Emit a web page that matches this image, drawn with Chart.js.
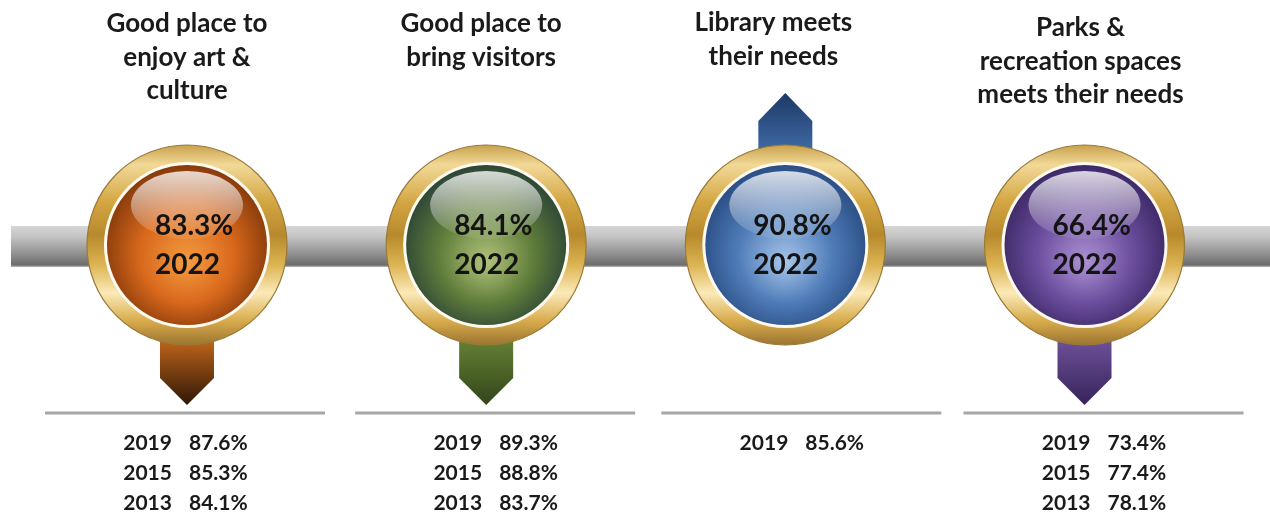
<!DOCTYPE html>
<html>
<head>
<meta charset="utf-8">
<script src="https://cdn.jsdelivr.net/npm/chart.js@4.4.1/dist/chart.umd.min.js"></script>
<style>
  html, body { margin: 0; padding: 0; background: #fff; }
  #wrap { width: 1270px; height: 515px; position: relative; }
</style>
</head>
<body>
<div id="wrap"><canvas id="infographic"></canvas></div>
<script>
// Survey results timeline - 2022 with earlier years below

const categories = [
  ['Good place to', 'enjoy art &', 'culture'],
  ['Good place to', 'bring visitors'],
  ['Library meets', 'their needs'],
  ['Parks &', 'recreation spaces', 'meets their needs']
];
const currentYear = '2022';
const values2022 = [83.3, 84.1, 90.8, 66.4];
const pastYears = ['2019', '2015', '2013'];
const pastValues = [
  [87.6, 85.3, 84.1],
  [89.3, 88.8, 83.7],
  [85.6],
  [73.4, 77.4, 78.1]
];
// arrow direction: change 2022 vs 2019
const arrowUp = values2022.map((v, i) => v > pastValues[i][0]);

const palettes = [
  { ball: ['#f59c40', '#d8681c', '#853a0b'], arrow: ['#e0781f', '#2e1606'] },
  { ball: ['#b2c47c', '#607d3a', '#2c4536'], arrow: ['#6f8f39', '#33441b'] },
  { ball: ['#a8c6ea', '#4f7cb8', '#2a4d84'], arrow: ['#4876b4', '#1c3866'] },
  { ball: ['#ad93d4', '#6c4e9e', '#3c2866'], arrow: ['#7a5aa8', '#36245a'] }
];

// small layout nudges (px) relative to each circle centre
const titleShift = [0, -5, -12, -4];
const titleTop = [24, 24, 23, 28];
const tableShift = [-2, 9, 16, 19];

const FONT = 'Lato, "Open Sans", sans-serif';

const fmt = v => v.toFixed(1) + '%';

const decor = {
  id: 'decor',
  beforeDatasetsDraw(chart) {
    const ctx = chart.ctx;
    const pts = chart.getDatasetMeta(0).data;
    const cy = pts[0].y;

    // grey timeline bar
    const barTop = cy - 19, barBot = cy + 22;
    let g = ctx.createLinearGradient(0, barTop, 0, barBot);
    g.addColorStop(0, '#d6d6d6');
    g.addColorStop(0.25, '#c4c4c4');
    g.addColorStop(0.7, '#8e8e8e');
    g.addColorStop(0.95, '#6c6c6c');
    g.addColorStop(1, '#b8b8b8');
    ctx.fillStyle = g;
    ctx.fillRect(11, barTop, chart.width - 11, barBot - barTop);

    pts.forEach((p, i) => {
      const cx = p.x;
      const pal = palettes[i];
      ctx.save();
      // arrow
      const hw = 27;
      if (arrowUp[i]) {
        const top = 93, shoulder = 121, base = cy - 80;
        g = ctx.createLinearGradient(0, top, 0, base);
        g.addColorStop(0, pal.arrow[1]);
        g.addColorStop(1, pal.arrow[0]);
        ctx.fillStyle = g;
        ctx.beginPath();
        ctx.moveTo(cx - hw, base);
        ctx.lineTo(cx - hw, shoulder);
        ctx.lineTo(cx, top);
        ctx.lineTo(cx + hw, shoulder);
        ctx.lineTo(cx + hw, base);
        ctx.closePath();
        ctx.fill();
      } else {
        const base = cy + 80, shoulder = 378, tip = 405;
        g = ctx.createLinearGradient(0, base, 0, tip);
        g.addColorStop(0, pal.arrow[0]);
        g.addColorStop(1, pal.arrow[1]);
        ctx.fillStyle = g;
        ctx.beginPath();
        ctx.moveTo(cx - hw, base);
        ctx.lineTo(cx - hw, shoulder);
        ctx.lineTo(cx, tip);
        ctx.lineTo(cx + hw, shoulder);
        ctx.lineTo(cx + hw, base);
        ctx.closePath();
        ctx.fill();
      }

      // gold ring
      const R = 100;
      g = ctx.createLinearGradient(0, cy - R, 0, cy + R);
      g.addColorStop(0, '#c9a24c');
      g.addColorStop(0.1, '#f2d998');
      g.addColorStop(0.28, '#d4a744');
      g.addColorStop(0.45, '#b7892c');
      g.addColorStop(0.6, '#dcb452');
      g.addColorStop(0.74, '#fbeab8');
      g.addColorStop(0.88, '#d8ab4c');
      g.addColorStop(1, '#9a7430');
      ctx.fillStyle = g;
      ctx.beginPath();
      ctx.arc(cx, cy, R, 0, Math.PI * 2);
      ctx.fill();
      ctx.strokeStyle = '#9b7a38';
      ctx.lineWidth = 1.2;
      ctx.stroke();

      // white inner rim
      ctx.fillStyle = '#fffaf0';
      ctx.beginPath();
      ctx.arc(cx, cy, 83, 0, Math.PI * 2);
      ctx.fill();

      // coloured ball
      const r = 80;
      g = ctx.createRadialGradient(cx, cy + 18, 0, cx, cy + 5, r + 6);
      g.addColorStop(0, pal.ball[0]);
      g.addColorStop(0.55, pal.ball[1]);
      g.addColorStop(1, pal.ball[2]);
      ctx.fillStyle = g;
      ctx.beginPath();
      ctx.arc(cx, cy, r, 0, Math.PI * 2);
      ctx.fill();

      // glossy highlight
      g = ctx.createLinearGradient(0, cy - 74, 0, cy - 8);
      g.addColorStop(0, 'rgba(255,255,255,0.8)');
      g.addColorStop(1, 'rgba(255,255,255,0.08)');
      ctx.fillStyle = g;
      ctx.beginPath();
      ctx.ellipse(cx, cy - 40, 56, 34, 0, 0, Math.PI * 2);
      ctx.fill();

      // 2022 value
      ctx.fillStyle = '#141414';
      ctx.font = 'bold 28px ' + FONT;
      ctx.textAlign = 'left';
      ctx.textBaseline = 'middle';
      ctx.fillText(fmt(values2022[i]), cx - 32, cy - 19);
      ctx.fillText(currentYear, cx - 32, cy + 20);

      // title
      ctx.textAlign = 'center';
      ctx.font = 'bold 26px ' + FONT;
      ctx.fillStyle = '#1a1a1a';
      categories[i].forEach((t, k) => ctx.fillText(t, cx + titleShift[i], titleTop[i] + k * 33.5));

      // separator line
      const bx = cx + tableShift[i];
      ctx.strokeStyle = '#a6a6a6';
      ctx.lineWidth = 3;
      ctx.beginPath();
      ctx.moveTo(bx - 140, 413);
      ctx.lineTo(bx + 140, 413);
      ctx.stroke();

      // earlier years
      ctx.font = 'bold 21px ' + FONT;
      ctx.fillStyle = '#1a1a1a';
      pastValues[i].forEach((v, k) => {
        const y = 443 + k * 30;
        ctx.textAlign = 'right';
        ctx.fillText(pastYears[k], bx - 13, y);
        ctx.textAlign = 'left';
        ctx.fillText(fmt(v), bx + 4, y);
      });
      ctx.restore();
    });
  }
};

new Chart(document.getElementById('infographic'), {
  type: 'scatter',
  data: {
    datasets: [{
      data: values2022.map((v, i) => ({ x: i, y: 0 })),
      pointRadius: 0,
      pointHoverRadius: 0
    }]
  },
  options: {
    responsive: true,
    maintainAspectRatio: false,
    animation: false,
    layout: { padding: 0, autoPadding: false },
    plugins: { legend: { display: false }, tooltip: { enabled: false } },
    scales: {
      x: { type: 'linear', min: -0.625, max: 3.62, display: false },
      y: { type: 'linear', min: -0.5243, max: 0.4757, display: false }
    }
  },
  plugins: [decor]
});
</script>
</body>
</html>
